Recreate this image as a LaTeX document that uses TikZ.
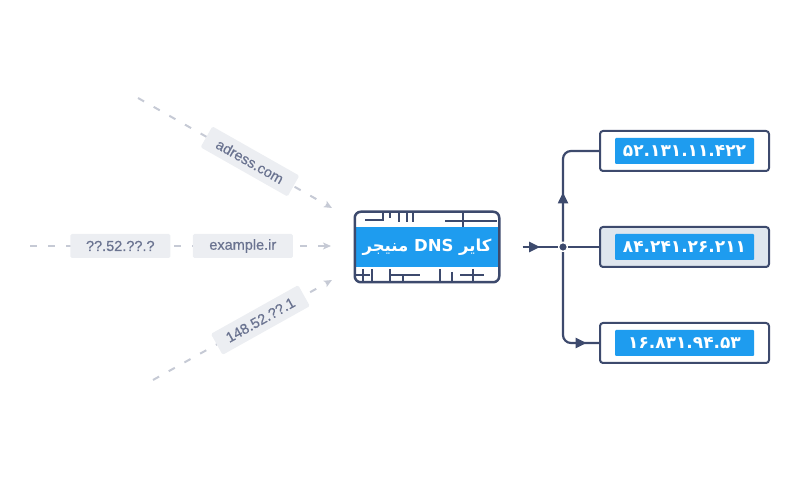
\documentclass[tikz,border=0pt]{standalone}
\usepackage{fontspec}
\setmainfont{Liberation Sans}
\newfontfamily\tagfont[FakeBold=0.5]{Liberation Sans}
\newfontfamily\fafont[Script=Arabic]{DejaVu Sans}
\TeXXeTstate=1
\usetikzlibrary{arrows.meta, positioning, calc, decorations.markings}

\definecolor{navy}{HTML}{3D4A6D}
\definecolor{brand}{HTML}{1E9CEF}
\definecolor{paleblue}{HTML}{DFE6EE}
\definecolor{tagbg}{HTML}{ECEEF2}
\definecolor{tagtxt}{HTML}{6A7390}
\definecolor{dashc}{HTML}{C6CAD5}

\tikzset{
  midarrow/.style={postaction={decorate},
    decoration={markings, mark=at position #1 with {\arrow{Triangle[length=11pt,width=10pt]}}}},
}

\begin{document}
\begin{tikzpicture}[x=1pt, y=1pt,
  tag/.style={fill=tagbg, text=tagtxt, rounded corners=1.5pt, minimum width=100pt,
    minimum height=24pt, inner sep=0pt, font=\tagfont\fontsize{14.5}{15}\selectfont},
  feed/.style={draw=dashc, line width=2pt, dash pattern=on 7pt off 11pt,
    -{Stealth[length=8pt,width=7pt,inset=2pt]}},
  wire/.style={draw=navy, line width=2.2pt, rounded corners=8pt},
  ipbox/.style={draw=navy, line width=2pt, rounded corners=3pt, fill=white,
    minimum width=169pt, minimum height=40pt, inner sep=0pt},
  ipnum/.style={fill=brand, text=white, minimum width=139pt, minimum height=26pt,
    inner sep=0pt, rounded corners=1pt, font=\fafont\bfseries\fontsize{17}{17}\selectfont},
  chip/.style={draw=navy, line width=1.3pt},
]
\useasboundingbox (0,0) rectangle (800,481);

% incoming lookups
\coordinate (src1) at (138,383);
\coordinate (src2) at (30,235);
\coordinate (src3) at (153,101);
\coordinate (end1) at (332,273);
\coordinate (end2) at (331,235);
\coordinate (end3) at (332,201);

\draw[feed] (src1) -- node[tag, sloped, pos=0.577] (q1) {adress.com} (end1);
\draw[feed] (src2) -- node[tag, pos=0.3] (q2) {??.52.??.?}
                      node[tag, pos=0.707] (q3) {example.ir} (end2);
\draw[feed] (src3) -- node[tag, sloped, pos=0.6] (q4) {148.52.??.1} (end3);

% resolver box
\node[fill=brand, minimum width=143pt, minimum height=40pt, inner sep=0pt, text=white,
  font=\fafont\bfseries\fontsize{16.5}{16.5}\selectfont] (band) at (427,234)
  {\beginR کایر \beginL DNS\endL{} منیجر\endR};
\node[draw=navy, line width=2.5pt, rounded corners=6pt, minimum width=144.5pt,
  minimum height=70.5pt, inner sep=0pt] (dns) at (band) {};

% circuit traces
\draw[chip] (365,261) -- (383,261) -- (383,268);
\draw[chip] (390,268) -- (390,263) (399,268) -- (399,259) (407,268) -- (407,259)
            (413,268) -- (413,259);
\draw[chip] (445,260) -- (497,260) (463,268) -- (463,254);
\draw[chip] (356,206) -- (370,206) (363,212) -- (363,198) (372,212) -- (372,198);
\draw[chip] (390,212) -- (390,198) (390,206) -- (420,206) (403,206) -- (403,198);
\draw[chip] (440,212) -- (440,198) (452,209) -- (452,198);
\draw[chip] (460,206) -- (484,206) (473,212) -- (473,198);

% answers
\node[ipbox] (ip1) at (684.5,330) {};
\node[ipnum] (n1) at (ip1) {۵۲.۱۳۱.۱۱.۴۲۲};
\node[ipbox, fill=paleblue] (ip2) at (684.5,234) {};
\node[ipnum] (n2) at (ip2) {۸۴.۲۴۱.۲۶.۲۱۱};
\node[ipbox] (ip3) at (684.5,138) {};
\node[ipnum] (n3) at (ip3) {۱۶.۸۳۱.۹۴.۵۳};

% fan out
\node[circle, fill=navy, draw=white, line width=1.5pt, inner sep=0pt,
  minimum size=9pt] (hub) at (563,234) {};
\coordinate (tail) at ($(dns.east)+(22,0)$);
\draw[wire, midarrow=0.5] (tail) -- (hub);
\draw[wire, midarrow=0.4] (hub) |- (ip1.west);
\draw[wire] (hub) -- (ip2.west);
\draw[wire, midarrow=0.9] (hub) |- (ip3.west);
\end{tikzpicture}
\end{document}
